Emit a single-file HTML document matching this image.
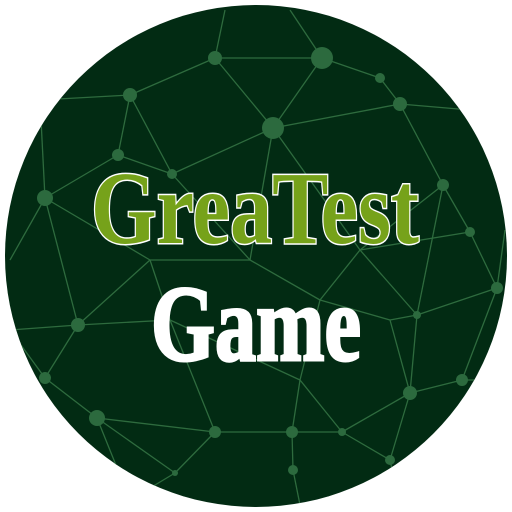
<!DOCTYPE html>
<html><head><meta charset="utf-8"><style>
html,body{margin:0;padding:0;background:#fff;width:512px;height:512px;overflow:hidden}
</style></head><body>
<svg width="512" height="512" viewBox="0 0 512 512" xmlns="http://www.w3.org/2000/svg">
<defs><clipPath id="c"><circle cx="256" cy="256" r="251"/></clipPath></defs>
<circle cx="256" cy="256" r="251" fill="#022b13"/>
<g id="net" clip-path="url(#c)" stroke="#2e6b3e" stroke-width="1.3" fill="#2c6a3e"></g>
<text x="255" y="243" text-anchor="middle" textLength="328" lengthAdjust="spacingAndGlyphs" font-family="Liberation Serif, serif" font-weight="bold" font-size="104" fill="#76a21a" stroke="#ffffff" stroke-width="3" paint-order="stroke">GreaTest</text>
<text x="256" y="360" text-anchor="middle" textLength="210" lengthAdjust="spacingAndGlyphs" font-family="Liberation Serif, serif" font-weight="bold" font-size="108" fill="#ffffff" stroke="#ffffff" stroke-width="3">Game</text>
</svg>
<script>
const nodes=[[215,58,7],[322,58,11],[130,95,7],[273,128,11],[380,78,5],[400,104,7],[45,198,8],[172,174,5],[118,155,6],[443,185,6],[470,232,5],[497,288,6],[417,315,4],[78,325,7],[45,378,6],[97,418,8],[215,432,6],[292,432,6],[410,393,7],[462,380,6],[342,432,4],[390,460,5],[293,470,5],[175,473,3],[225,10,0],[290,10,0],[40,100,0],[470,110,0],[10,260,0],[505,230,0],[10,330,0],[505,380,0],[130,500,0],[400,505,0],[300,505,0],[150,260,0],[360,250,0],[250,260,0],[320,300,0],[170,320,0],[390,320,0],[300,380,0]];
const edges=[[0,1],[0,2],[0,3],[0,24],[1,3],[1,4],[1,25],[4,5],[3,5],[5,27],[5,9],[9,10],[10,11],[11,29],[9,36],[3,7],[2,7],[2,8],[8,6],[2,26],[6,26],[7,8],[6,35],[7,37],[3,37],[3,36],[36,10],[36,12],[12,11],[12,18],[12,40],[18,19],[19,31],[11,19],[6,28],[6,13],[13,35],[13,14],[13,30],[14,15],[15,16],[15,23],[16,17],[17,20],[20,21],[21,18],[21,33],[17,22],[22,34],[16,23],[23,32],[15,32],[16,39],[13,39],[35,39],[39,41],[41,17],[41,20],[41,38],[38,36],[38,37],[37,35],[40,18],[40,38],[14,30],[18,20],[9,12]];
const g=document.getElementById('net');
const NS='http://www.w3.org/2000/svg';
edges.forEach(e=>{const a=nodes[e[0]],b=nodes[e[1]];const l=document.createElementNS(NS,'line');


l.setAttribute('x1',a[0]);l.setAttribute('y1',a[1]);l.setAttribute('x2',b[0]);l.setAttribute('y2',b[1]);g.appendChild(l);});
nodes.forEach(n=>{if(!n[2])return;const c=document.createElementNS(NS,'circle');


c.setAttribute('cx',n[0]);c.setAttribute('cy',n[1]);c.setAttribute('r',n[2]);c.setAttribute('stroke','none');g.appendChild(c);});
</script>
</body></html>
